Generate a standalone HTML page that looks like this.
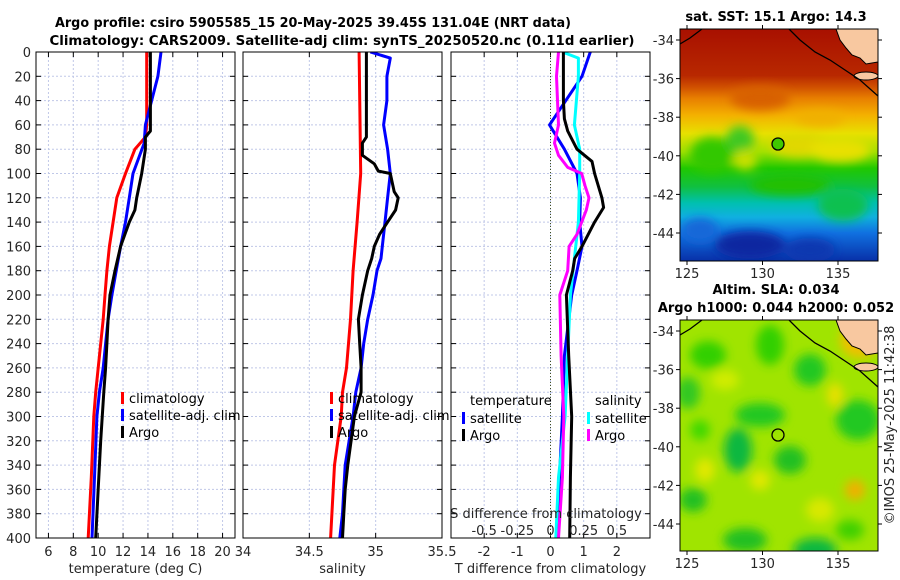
<!DOCTYPE html>
<html><head><meta charset="utf-8">
<style>
html,body{margin:0;padding:0;background:#fff;}
svg{display:block;font-family:"DejaVu Sans","Liberation Sans",sans-serif;}
.tk{font-size:13px;fill:#262626;}
.ttl{font-size:13px;font-weight:bold;fill:#000;}
.lg{font-size:13px;fill:#000;}
</style></head>
<body>
<svg id="fig" width="900" height="580" viewBox="0 0 900 580">
<defs>
  <filter id="bl" x="-50%" y="-50%" width="200%" height="200%"><feGaussianBlur stdDeviation="5"/></filter>
  <linearGradient id="sstg" x1="0" y1="0" x2="0" y2="1">
    <stop offset="0" stop-color="#a81000"/>
    <stop offset="0.2" stop-color="#b82800"/>
    <stop offset="0.25" stop-color="#d05000"/>
    <stop offset="0.3" stop-color="#e88000"/>
    <stop offset="0.37" stop-color="#f4b000"/>
    <stop offset="0.45" stop-color="#e8e000"/>
    <stop offset="0.53" stop-color="#a0e000"/>
    <stop offset="0.6" stop-color="#20c800"/>
    <stop offset="0.68" stop-color="#10c040"/>
    <stop offset="0.75" stop-color="#00c0b0"/>
    <stop offset="0.81" stop-color="#10b0e0"/>
    <stop offset="0.88" stop-color="#1070e0"/>
    <stop offset="1" stop-color="#0830a8"/>
  </linearGradient>
  <clipPath id="m1c"><rect x="680" y="29" width="198" height="232"/></clipPath>
  <clipPath id="m2c"><rect x="680" y="320" width="198" height="231"/></clipPath>
  <clipPath id="p1c"><rect x="36" y="52" width="199" height="486"/></clipPath>
  <clipPath id="p2c"><rect x="243" y="52" width="199" height="486"/></clipPath>
  <clipPath id="p3c"><rect x="451" y="52" width="199" height="486"/></clipPath>
</defs>

<text class="ttl" x="313" y="27" text-anchor="middle" textLength="516" lengthAdjust="spacingAndGlyphs">Argo profile: csiro 5905585_15 20-May-2025 39.45S 131.04E (NRT data)</text>
<text class="ttl" x="342" y="45" text-anchor="middle" textLength="585" lengthAdjust="spacingAndGlyphs">Climatology: CARS2009. Satellite-adj clim: synTS_20250520.nc (0.11d earlier)</text>

<g id="panels"></g>

<g>
  <text class="ttl" x="776" y="21" text-anchor="middle">sat. SST: 15.1 Argo: 14.3</text>
  <g clip-path="url(#m1c)">
    <rect x="680" y="29" width="198" height="232" fill="url(#sstg)"/>
    <g filter="url(#bl)">
      <ellipse cx="712" cy="155" rx="22" ry="18" fill="#30c800"/>
      <ellipse cx="740" cy="140" rx="14" ry="14" fill="#40c820"/>
      <ellipse cx="745" cy="160" rx="12" ry="10" fill="#c8e000"/>
      <ellipse cx="800" cy="145" rx="30" ry="12" fill="#e0d800"/>
      <ellipse cx="840" cy="150" rx="30" ry="12" fill="#e8e000"/>
      <ellipse cx="843" cy="205" rx="25" ry="16" fill="#10c050"/>
      <ellipse cx="750" cy="245" rx="35" ry="14" fill="#0a28a0"/>
      <ellipse cx="810" cy="250" rx="25" ry="12" fill="#0a38b0"/>
      <ellipse cx="760" cy="98" rx="30" ry="12" fill="#d86000"/>
      <ellipse cx="820" cy="118" rx="25" ry="8" fill="#f0b000"/>
      <ellipse cx="700" cy="230" rx="18" ry="12" fill="#1868d8"/>
      <ellipse cx="790" cy="185" rx="40" ry="10" fill="#20c000"/>
    </g>
    <polygon points="836,29 878,29 878,62 866,64 860,58 852,55 846,48 840,40" fill="#f8c8a0" stroke="#000" stroke-width="1"/>
    <ellipse cx="866" cy="76" rx="12" ry="4" fill="#f8c8a0" stroke="#000" stroke-width="1"/>
    <polyline points="680,44 690,38 702,29" fill="none" stroke="#000" stroke-width="1.3"/>
    <polyline points="789,29 800,40 815,52 830,60 845,70 860,80 878,96" fill="none" stroke="#000" stroke-width="1.3"/>
    <circle cx="778" cy="144" r="6" fill="#40c800" stroke="#000" stroke-width="1.3"/>
  </g>
  <rect x="680" y="29" width="198" height="232" fill="none" stroke="#000" stroke-width="1"/>
</g>

<g>
  <text class="ttl" x="776" y="294" text-anchor="middle">Altim. SLA: 0.034</text>
  <text class="ttl" x="776" y="312" text-anchor="middle">Argo h1000: 0.044 h2000: 0.052</text>
  <g clip-path="url(#m2c)">
    <rect x="680" y="320" width="198" height="231" fill="#a0e400"/>
    <g filter="url(#bl)">
      <ellipse cx="708" cy="355" rx="18" ry="14" fill="#30d000"/>
      <ellipse cx="770" cy="345" rx="14" ry="20" fill="#30d000"/>
      <ellipse cx="810" cy="370" rx="16" ry="16" fill="#20c820"/>
      <ellipse cx="688" cy="393" rx="12" ry="16" fill="#30c820"/>
      <ellipse cx="760" cy="415" rx="25" ry="12" fill="#20c820"/>
      <ellipse cx="858" cy="420" rx="22" ry="20" fill="#20c820"/>
      <ellipse cx="738" cy="450" rx="14" ry="22" fill="#10b840"/>
      <ellipse cx="790" cy="460" rx="16" ry="14" fill="#20c020"/>
      <ellipse cx="693" cy="500" rx="14" ry="12" fill="#20c020"/>
      <ellipse cx="745" cy="540" rx="22" ry="12" fill="#20c020"/>
      <ellipse cx="815" cy="550" rx="22" ry="12" fill="#10b840"/>
      <ellipse cx="855" cy="490" rx="10" ry="10" fill="#f0b000"/>
      <ellipse cx="835" cy="395" rx="8" ry="12" fill="#e8e000"/>
      <ellipse cx="705" cy="470" rx="10" ry="12" fill="#e0e800"/>
      <ellipse cx="760" cy="480" rx="10" ry="10" fill="#e0e800"/>
      <ellipse cx="860" cy="340" rx="20" ry="18" fill="#f0c000"/>
      <ellipse cx="725" cy="380" rx="14" ry="10" fill="#d0ec00"/>
      <ellipse cx="820" cy="510" rx="14" ry="12" fill="#d8e800"/>
      <ellipse cx="700" cy="430" rx="10" ry="10" fill="#40d800"/>
      <ellipse cx="850" cy="530" rx="14" ry="10" fill="#40d000"/>
    </g>
    <polygon points="836,320 878,320 878,353 866,355 860,349 852,346 846,339 840,331" fill="#f8c8a0" stroke="#000" stroke-width="1"/>
    <ellipse cx="866" cy="367" rx="12" ry="4" fill="#f8c8a0" stroke="#000" stroke-width="1"/>
    <polyline points="680,335 690,329 702,320" fill="none" stroke="#000" stroke-width="1.3"/>
    <polyline points="789,320 800,331 815,343 830,351 845,361 860,371 878,387" fill="none" stroke="#000" stroke-width="1.3"/>
    <circle cx="778" cy="435" r="6" fill="none" stroke="#000" stroke-width="1.3"/>
  </g>
  <rect x="680" y="320" width="198" height="231" fill="none" stroke="#000" stroke-width="1"/>
</g>
<g id="mapaxes"></g>

<text class="tk" transform="translate(894,425) rotate(-90)" text-anchor="middle">©IMOS 25-May-2025 11:42:38</text>
</svg>

<script>
const depthTicks = [0,20,40,60,80,100,120,140,160,180,200,220,240,260,280,300,320,340,360,380,400];
const tempTicks = [6,8,10,12,14,16,18,20];
const salTicks = [34,34.5,35,35.5];
const salTickLabels = ["34","34.5","35","35.5"];
const tdiffTicks = [-2,-1,0,1,2];
const sdiffTicks = [-0.5,-0.25,0,0.25,0.5];

const tClimDepth = [0,60,70,80,100,120,140,160,180,200,220,240,260,280,300,350,400];
const tClim      = [13.9,13.9,13.8,12.95,12.2,11.5,11.2,10.9,10.7,10.55,10.4,10.2,10.0,9.8,9.65,9.45,9.2];
const tSatDepth  = [0,20,60,75,100,120,140,160,180,200,220,240,260,280,300,350,400];
const tSat       = [15.05,14.8,13.8,13.7,12.8,12.5,12.2,11.8,11.45,11.1,10.8,10.6,10.4,10.1,9.9,9.7,9.5];
const tArgoDepth = [0,65,70,80,100,110,120,130,140,160,180,200,220,240,260,280,320,350,400];
const tArgo      = [14.2,14.2,13.8,13.8,13.5,13.3,13.1,12.95,12.5,11.8,11.35,10.95,10.8,10.7,10.6,10.45,10.2,10.05,9.8];

const sClimDepth = [0,100,140,180,220,260,280,300,340,360,380,400];
const sClim      = [34.875,34.887,34.86,34.83,34.81,34.78,34.75,34.74,34.69,34.68,34.67,34.66];
const sSatDepth  = [0,5,20,40,60,80,100,120,140,160,170,180,200,220,240,260,280,300,340,360,380,400];
const sSat       = [34.96,35.11,35.085,35.085,35.06,35.09,35.11,35.09,35.07,35.05,35.04,35.01,34.98,34.94,34.91,34.89,34.85,34.83,34.77,34.76,34.75,34.73];
const sArgoDepth = [0,70,75,85,92,98,100,110,115,120,130,140,150,160,170,180,200,220,240,260,280,300,340,360,380,400];
const sArgo      = [34.93,34.93,34.9,34.9,34.99,35.02,35.11,35.13,35.14,35.17,35.15,35.09,35.03,34.99,34.97,34.94,34.9,34.87,34.88,34.89,34.89,34.84,34.79,34.77,34.76,34.75];

const dTSatDepth = [0,20,60,80,100,120,140,160,180,200,250,300,350,400];
const dTSat      = [1.2,0.95,-0.03,0.42,0.8,0.9,0.88,0.95,0.8,0.64,0.42,0.36,0.27,0.18];
const dTArgoDepth= [0,40,55,65,80,90,100,120,128,140,160,170,180,200,250,300,350,400];
const dTArgo     = [0.39,0.39,0.42,0.52,0.8,1.25,1.33,1.55,1.6,1.33,0.95,0.73,0.67,0.48,0.55,0.64,0.6,0.58];
const dSSatDepth = [0,5,20,60,80,100,140,200,250,300,350,400];
const dSSat      = [0.09,0.21,0.21,0.18,0.22,0.22,0.21,0.15,0.13,0.11,0.06,0.04];
const dSArgoDepth= [0,20,60,75,85,95,100,110,120,130,140,150,160,180,200,250,300,350,400];
const dSArgo     = [0.06,0.045,0.06,0.03,0.06,0.13,0.235,0.26,0.29,0.27,0.235,0.2,0.14,0.13,0.07,0.08,0.1,0.09,0.06];

const latTicks = [-34,-36,-38,-40,-42,-44];
const lonTicks = [125,130,135];

const NS = "http://www.w3.org/2000/svg";
const root = document.getElementById('panels');
function mk(tag, attrs, parent){ const e=document.createElementNS(NS,tag); for(const k in attrs) e.setAttribute(k,attrs[k]); (parent||root).appendChild(e); return e; }
const Y0=52, Y1=538;
function yD(d){ return Y0 + d/400*(Y1-Y0); }
function xScale(x0,x1,v0,v1){ return v => x0 + (v-v0)/(v1-v0)*(x1-x0); }

function panel(name, x0, x1, xs, ticks, labels, xlabel, showLeft){
  const g = mk('g',{});
  
  
  for(const t of ticks){ const x=xs(t);
    const l=mk('line',{x1:x,x2:x,y1:Y0,y2:Y1,stroke:'#c0c8e8','stroke-width':1,'stroke-dasharray':'2,2'},g);
      }
  for(const d of depthTicks){ const y=yD(d);
    const l=mk('line',{x1:x0,x2:x1,y1:y,y2:y,stroke:'#c0c8e8','stroke-width':1,'stroke-dasharray':'2,2'},g);
     
    mk('line',{x1:x0,x2:x0+5,y1:y,y2:y,stroke:'#000'},g);
    mk('line',{x1:x1-5,x2:x1,y1:y,y2:y,stroke:'#000'},g);
    if(showLeft){ const t=mk('text',{x:x0-5,y:y+5,'text-anchor':'end',class:'tk'},g); t.textContent=d;
        }
  }
  ticks.forEach((t,i)=>{ const x=xs(t);
    mk('line',{x1:x,x2:x,y1:Y1-5,y2:Y1,stroke:'#000'},g);
    mk('line',{x1:x,x2:x,y1:Y0,y2:Y0+5,stroke:'#000'},g);
    const tx=mk('text',{x:x,y:556,'text-anchor':'middle',class:'tk'},g); tx.textContent=labels[i];
      });
  const xl=mk('text',{x:(x0+x1)/2,y:573,'text-anchor':'middle',class:'tk'},g); xl.textContent=xlabel;
   
  return g;
}
function line(g, clip, xs, vals, depths, color, name){
  const p = vals.map((v,i)=>xs(v).toFixed(1)+','+yD(depths[i]).toFixed(1)).join(' ');
  const e=mk('polyline',{points:p,fill:'none',stroke:color,'stroke-width':3,'stroke-linejoin':'round','clip-path':clip},g);
  
  
}
function frame(g,x0,x1){ mk('rect',{x:x0,y:Y0,width:x1-x0,height:Y1-Y0,fill:'none',stroke:'#000','stroke-width':1},g); }
function legendItem(g,x,y,color,label){
  mk('rect',{x:x,y:y-9,width:3,height:12,fill:color},g);
  const t=mk('text',{x:x+8,y:y+2,class:'lg'},g); t.textContent=label;
   
}

const xt = xScale(36,235,5,21);
const g1 = panel('temperature-panel',36,235,xt,tempTicks,tempTicks.map(String),'temperature (deg C)',true);
line(g1,'url(#p1c)',xt,tClim,tClimDepth,'#ff0000','temp-climatology-line');
line(g1,'url(#p1c)',xt,tSat,tSatDepth,'#0000ff','temp-satellite-line');
line(g1,'url(#p1c)',xt,tArgo,tArgoDepth,'#000000','temp-argo-line');
legendItem(g1,121,401,'#ff0000','climatology');
legendItem(g1,121,418,'#0000ff','satellite-adj. clim');
legendItem(g1,121,435,'#000000','Argo');
frame(g1,36,235);

const xsS = xScale(243,442,34,35.5);
const g2 = panel('salinity-panel',243,442,xsS,salTicks,salTickLabels,'salinity',false);
line(g2,'url(#p2c)',xsS,sClim,sClimDepth,'#ff0000','sal-climatology-line');
line(g2,'url(#p2c)',xsS,sSat,sSatDepth,'#0000ff','sal-satellite-line');
line(g2,'url(#p2c)',xsS,sArgo,sArgoDepth,'#000000','sal-argo-line');
legendItem(g2,330,401,'#ff0000','climatology');
legendItem(g2,330,418,'#0000ff','satellite-adj. clim');
legendItem(g2,330,435,'#000000','Argo');
frame(g2,243,442);

const xdT = xScale(451,650,-3,3);
const xdS = xScale(451,650,-0.75,0.75);
const g3 = panel('difference-panel',451,650,xdT,tdiffTicks,tdiffTicks.map(String),'T difference from climatology',false);
mk('line',{x1:xdT(0),x2:xdT(0),y1:Y0,y2:Y1,stroke:'#405020','stroke-width':1,'stroke-dasharray':'1,2'},g3);
line(g3,'url(#p3c)',xdT,dTSat,dTSatDepth,'#0000ff','tdiff-satellite-line');
line(g3,'url(#p3c)',xdS,dSSat,dSSatDepth,'#00ffff','sdiff-satellite-line');
line(g3,'url(#p3c)',xdS,dSArgo,dSArgoDepth,'#ff00ff','sdiff-argo-line');
line(g3,'url(#p3c)',xdT,dTArgo,dTArgoDepth,'#000000','tdiff-argo-line');
{ const t=mk('text',{x:470,y:405,class:'lg'},g3); t.textContent='temperature';
    }
{ const t=mk('text',{x:595,y:405,class:'lg'},g3); t.textContent='salinity';
    }
legendItem(g3,462,421,'#0000ff','satellite');
legendItem(g3,462,438,'#000000','Argo');
legendItem(g3,587,421,'#00ffff','satellite');
legendItem(g3,587,438,'#ff00ff','Argo');
{ const t=mk('text',{x:546,y:518,'text-anchor':'middle',class:'tk'},g3); t.textContent='S difference from climatology';
    }
sdiffTicks.forEach(v=>{ const t=mk('text',{x:xdS(v),y:535,'text-anchor':'middle',class:'tk'},g3); t.textContent=String(v);
    });
frame(g3,451,650);

const ma = document.getElementById('mapaxes');
const lonX = xScale(687,838,125,135);
function mapAxes(yTop, yBot){
  const latY = v => yTop + 11 + (-34 - v)/10*193;
  latTicks.forEach(v=>{ const y=latY(v);
    mk('line',{x1:680,x2:676,y1:y,y2:y,stroke:'#000'},ma);
    mk('line',{x1:878,x2:882,y1:y,y2:y,stroke:'#000'},ma);
    const t=mk('text',{x:674,y:y+5,'text-anchor':'end',class:'tk'},ma); t.textContent=v;
      });
  lonTicks.forEach(v=>{ const x=lonX(v);
    mk('line',{x1:x,x2:x,y1:yBot,y2:yBot+4,stroke:'#000'},ma);
    mk('line',{x1:x,x2:x,y1:yTop,y2:yTop-4,stroke:'#000'},ma);
    const t=mk('text',{x:x,y:yBot+17,'text-anchor':'middle',class:'tk'},ma); t.textContent=v;
      });
}
mapAxes(29,261);
mapAxes(320,551);
</script>
</body></html>
